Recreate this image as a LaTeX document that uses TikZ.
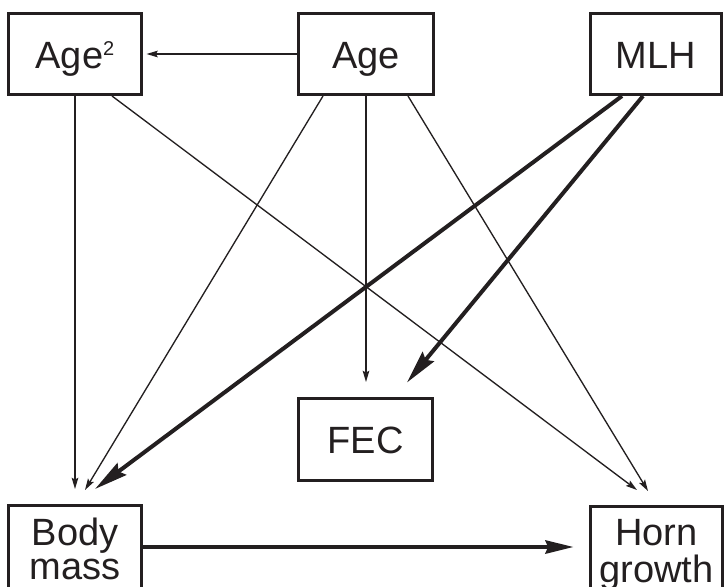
\documentclass[tikz,border=0pt]{standalone}
\usepackage{fontspec}
\setmainfont{Liberation Sans}
\usetikzlibrary{arrows.meta,calc}
\definecolor{ink}{RGB}{35,31,32}
\begin{document}
\begin{tikzpicture}[x=0.75pt,y=-0.75pt,
  box/.style={draw=ink, line width=2.4pt, rectangle, inner sep=0pt, text=ink,
    font=\fontsize{28.5}{25.5}\selectfont},
  onebox/.style={box, text height=22pt, text depth=1pt},
  twobox/.style={box, text height=5pt, text depth=17.75pt},
  thinarrow/.style={draw=ink, line width=1pt, -{Stealth[length=8.5pt,width=5pt,inset=1.5pt]}},
  thickarrow/.style={draw=ink, line width=3pt, -{Stealth[length=25pt,width=11pt,inset=3pt]}},
  mainarrow/.style={draw=ink, line width=2.5pt, -{Stealth[length=21pt,width=10pt,inset=2pt]}},
]
\useasboundingbox (0,0) rectangle (725,586);
\fill[white] (0,0) rectangle (725,586);
\node[onebox, minimum width=99.6pt, minimum height=60.6pt] (age2) at (75,54)
  {Age\raisebox{9.5pt}{\fontsize{15}{15}\selectfont 2}};
\node[onebox, minimum width=101.1pt, minimum height=60.6pt] (age) at (366,54) {Age};
\node[onebox, minimum width=98.1pt, minimum height=60.6pt] (mlh) at (656,54) {MLH};
\node[onebox, minimum width=100.35pt, minimum height=61.35pt] (fec) at (365.5,439.5) {FEC};
\node[twobox, minimum width=99.6pt, minimum height=71.85pt] (body) at (75,553.5)
  {\begin{tabular}[t]{@{}c@{}}Body\\mass\end{tabular}};
\node[twobox, minimum width=98.85pt, minimum height=70.35pt] (horn) at (656.5,553.5)
  {\begin{tabular}[t]{@{}c@{}}Horn\\growth\end{tabular}};
% thin arrows
\draw[thinarrow] (age.west) -- ($(age2.east)+(3.5,0)$);
\draw[thinarrow] (age2.south) -- ($(body.north)+(0,-15)$);
\draw[thinarrow] ($(age2.south)+(37,0)$) -- ($(horn.north)+(-19.5,-15)$);
\draw[thinarrow] ($(age.south)+(-43,0)$) -- ($(body.north)+(10,-14)$);
\draw[thinarrow] (age.south) -- ($(fec.north)+(0.5,-15)$);
\draw[thinarrow] ($(age.south)+(42,0)$) -- ($(horn.north)+(-8.5,-14)$);
% thick arrows
\draw[thickarrow] ($(mlh.south)+(-34,0)$) -- ($(body.north)+(20,-15)$);
\draw[thickarrow] ($(mlh.south)+(-13,0)$) -- ($(fec.north)+(41.5,-14.5)$);
\draw[mainarrow] ($(body.east)+(0,-6.5)$) -- ($(horn.west)+(-15.6,-6.5)$);
\end{tikzpicture}
\end{document}
